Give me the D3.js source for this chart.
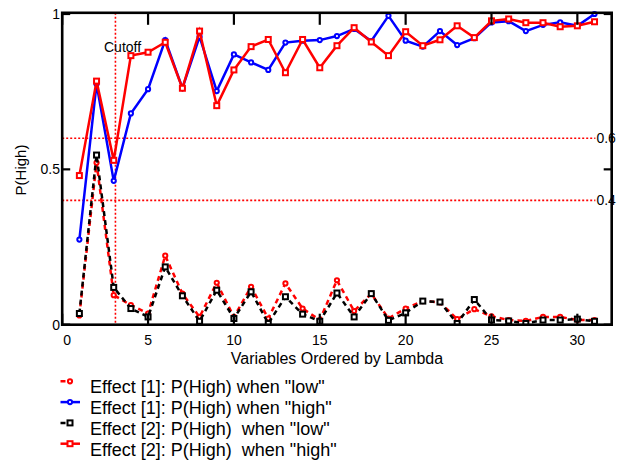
<!DOCTYPE html>
<html><head><meta charset="utf-8">
<script src="https://cdn.jsdelivr.net/npm/d3@7"></script>
<style>
html,body{margin:0;padding:0;background:#fff;}
svg text{font-family:"Liberation Sans",Arial,sans-serif;fill:#000;}
</style></head>
<body>
<svg id="chart" width="618" height="462"></svg>
<script>
// ---- data ----
const varIndex = [1,2,3,4,5,6,7,8,9,10,11,12,13,14,15,16,17,18,19,20,21,22,23,24,25,26,27,28,29,30,31];
const effect1Low  = [0.03,0.521,0.095,0.063,0.036,0.222,0.1,0.025,0.135,0.025,0.122,0.02,0.133,0.052,0.015,0.143,0.044,0.1,0.02,0.052,0.076,0.072,0.018,0.05,0.027,0.015,0.012,0.025,0.025,0.015,0.015];
const effect1High = [0.274,0.775,0.463,0.68,0.758,0.916,0.761,0.927,0.752,0.87,0.844,0.82,0.908,0.914,0.916,0.929,0.952,0.913,0.994,0.914,0.895,0.945,0.9,0.922,0.973,0.977,0.945,0.965,0.973,0.962,1.0];
const effect2Low  = [0.036,0.546,0.12,0.052,0.025,0.186,0.093,0.011,0.111,0.02,0.106,0.004,0.09,0.034,0.011,0.102,0.025,0.1,0.014,0.038,0.076,0.073,0.004,0.081,0.015,0.012,0.004,0.015,0.015,0.018,0.011];
const effect2High = [0.48,0.784,0.529,0.866,0.877,0.909,0.761,0.945,0.705,0.82,0.895,0.918,0.811,0.918,0.827,0.898,0.956,0.91,0.866,0.943,0.898,0.917,0.962,0.924,0.978,0.984,0.972,0.972,0.959,0.962,0.975];
const seriesNames = ['Effect [1]: P(High) when "low"','Effect [1]: P(High) when "high"','Effect [2]: P(High)  when "low"','Effect [2]: P(High)  when "high"'];
const xTicks = [0,5,10,15,20,25,30];
const yTicks = [0,0.5,1];
const yTickLabels = ["0","0.5","1"];
const refLevels = [0.6,0.4];
const refLabels = ["0.6","0.4"];
const cutoffX = 3.1;
const xDomain = [0,32];
const yDomain = [0,1];

// ---- layout ----
const L = 62.2, R = 611.7, B = 324.7, T = 12.8;
const svg = d3.select("#chart");
const x = d3.scaleLinear().domain(xDomain).range([L,R]);
const y = d3.scaleLinear().domain(yDomain).range([B,14]);

const series = [
  {vals: effect1Low,  color:"#ff0000", dash:"5,4", marker:"circle"},
  {vals: effect1High, color:"#0000ff", dash:null,  marker:"circle"},
  {vals: effect2Low,  color:"#000000", dash:"5,4", marker:"square"},
  {vals: effect2High, color:"#ff0000", dash:null,  marker:"square"}
];

svg.append("defs").append("clipPath").attr("id","clip")
  .append("rect").attr("x",L).attr("y",T-2).attr("width",R-L).attr("height",B-T+2);

// reference lines
const g = svg.append("g");
g.selectAll("line.ref").data(refLevels).join("line")
  .attr("x1",L).attr("x2",x(31.05)).attr("y1",d=>y(d)).attr("y2",d=>y(d))
  .attr("stroke","#ff0000").attr("stroke-width",1.6).attr("stroke-dasharray","2,2");
g.selectAll("text.ref").data(refLevels).join("text")
  .attr("x",x(31.05)+1).attr("y",d=>y(d)+5).attr("font-size",14).text((d,i)=>refLabels[i]);
g.append("line").attr("x1",x(cutoffX)).attr("x2",x(cutoffX)).attr("y1",T).attr("y2",B)
  .attr("stroke","#ff0000").attr("stroke-width",1.6).attr("stroke-dasharray","2,2");
g.append("text").attr("x",104).attr("y",51.5).attr("font-size",14).text("Cutoff");

// series
const line = d3.line().x((d,i)=>x(varIndex[i])).y(d=>y(d));
const pg = svg.append("g").attr("clip-path","url(#clip)");
function drawMarker(sel, type, color){
  if(type==="circle"){
    sel.append("circle").attr("r",2.1).attr("fill","#fff").attr("stroke",color).attr("stroke-width",2);
  } else {
    sel.append("rect").attr("x",-2.5).attr("y",-2.5).attr("width",5).attr("height",5)
      .attr("fill","#fff").attr("stroke",color).attr("stroke-width",2);
  }
}
series.forEach(s=>{
  pg.append("path").datum(s.vals).attr("d",line).attr("fill","none")
    .attr("stroke",s.color).attr("stroke-width",2.5)
    .attr("stroke-dasharray",s.dash);
  const m = pg.append("g").selectAll("g").data(s.vals).join("g")
    .attr("transform",(d,i)=>`translate(${x(varIndex[i])},${y(d)})`);
  drawMarker(m, s.marker, s.color);
});

// frame
svg.append("rect").attr("x",L).attr("y",T).attr("width",R-L).attr("height",B-T)
  .attr("fill","none").attr("stroke","#000").attr("stroke-width",2.6);

// ticks
const tk = svg.append("g").attr("stroke","#000").attr("stroke-width",2.2);
xTicks.forEach(t=>{
  tk.append("line").attr("x1",x(t)).attr("x2",x(t)).attr("y1",B).attr("y2",B-11);
  tk.append("line").attr("x1",x(t)).attr("x2",x(t)).attr("y1",T).attr("y2",T+12);
});
yTicks.forEach(t=>{
  tk.append("line").attr("x1",L).attr("x2",L+8).attr("y1",y(t)).attr("y2",y(t));
  tk.append("line").attr("x1",R).attr("x2",R-8).attr("y1",y(t)).attr("y2",y(t));
});
svg.append("g").selectAll("text").data(xTicks).join("text")
  .attr("x",(d,i)=>x(d)+(i===0?5:0)).attr("y",345).attr("text-anchor","middle")
  .attr("font-size",14).text(d=>d);
svg.append("g").selectAll("text").data(yTicks).join("text")
  .attr("x",60).attr("y",d=>y(d)+5).attr("text-anchor","end")
  .attr("font-size",14).text((d,i)=>yTickLabels[i]);

// axis titles
svg.append("text").attr("x",(L+R)/2).attr("y",364).attr("text-anchor","middle")
  .attr("font-size",16).text("Variables Ordered by Lambda");
svg.append("text").attr("transform","translate(26,170) rotate(-90)").attr("text-anchor","middle")
  .attr("font-size",15).text("P(High)");

// legend
const lg = svg.append("g");
series.forEach((s,i)=>{
  const base = 393.3 + i*20.8;
  const my = base - 12;
  const item = lg.append("g");
  item.append("line").attr("x1",60.5).attr("x2",s.dash?72:80).attr("y1",my).attr("y2",my)
    .attr("stroke",s.color).attr("stroke-width",2.5).attr("stroke-dasharray",s.dash);
  const m = item.append("g").attr("transform",`translate(70,${my})`);
  drawMarker(m, s.marker, s.color);
  item.append("text").attr("x",90).attr("y",base).attr("font-size",18)
    .style("white-space","pre").text(seriesNames[i]);
});
</script>
</body></html>
